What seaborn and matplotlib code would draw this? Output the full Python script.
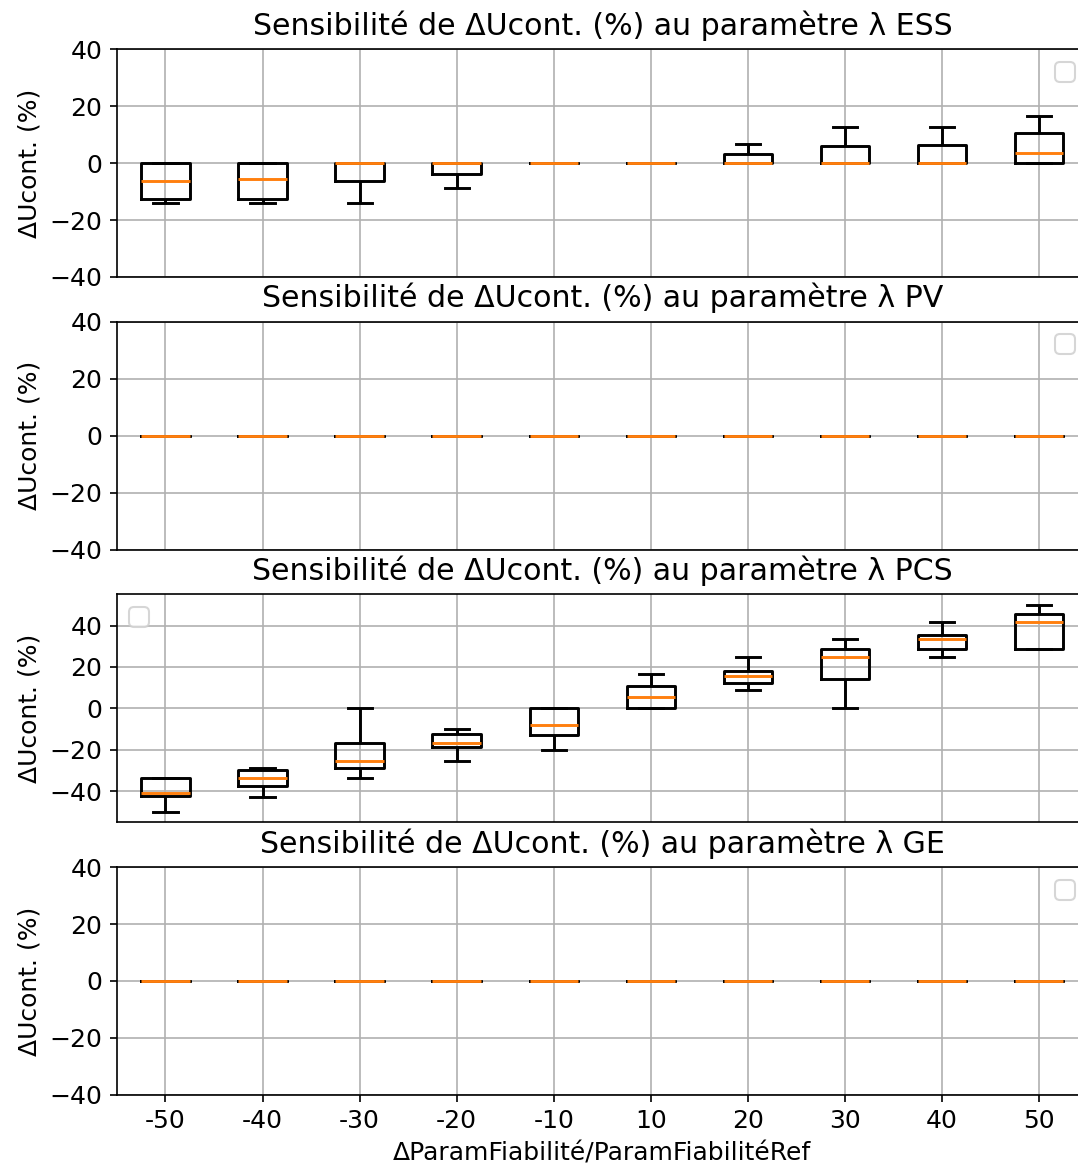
import numpy as np
import pandas as pd
import seaborn as sns
import matplotlib.pyplot as plt

plt.rcParams["font.size"] = 12

# x categories (relative change of the reliability parameter, %)
deltas = ["-50", "-40", "-30", "-20", "-10", "10", "20", "30", "40", "50"]

# five samples per category: lowest, q1, median, q3, highest
ess = [[-14.2, -12.5, -6.3, 0, 0],
       [-14.2, -12.5, -5.7, 0, 0],
       [-14.2, -6.4, 0, 0, 0],
       [-8.9, -3.7, 0, 0, 0],
       [0, 0, 0, 0, 0],
       [0, 0, 0, 0, 0],
       [0, 0, 0, 3.2, 6.7],
       [0, 0, 0, 6.0, 12.5],
       [0, 0, 0, 6.2, 12.5],
       [0, 0, 3.4, 10.5, 16.6]]

pv = [[0, 0, 0, 0, 0] for _ in deltas]

pcs = [[-50, -42.5, -41, -33.5, -33.5],
       [-42.7, -37.6, -33.5, -29.8, -28.7],
       [-33.5, -28.9, -25.2, -16.6, 0],
       [-25.2, -18.9, -16.6, -12.4, -9.8],
       [-20, -12.7, -7.9, 0, 0],
       [0, 0, 5.3, 11, 16.6],
       [9, 12.4, 15.5, 17.9, 25],
       [0, 14.2, 25, 28.7, 33.4],
       [25, 28.5, 33.4, 35.5, 41.5],
       [28.5, 28.5, 41.5, 45.6, 50]]

ge = [[0, 0, 0, 0, 0] for _ in deltas]

panels = [("ESS", ess, "upper right", True),
          ("PV", pv, "upper right", True),
          ("PCS", pcs, "upper left", False),
          ("GE", ge, "upper right", True)]


def to_long(samples):
    rows = []
    for d, vals in zip(deltas, samples):
        for v in vals:
            rows.append({"delta": d, "val": v})
    return pd.DataFrame(rows)


fig = plt.figure(figsize=(1078 / 150, 1171 / 150), dpi=150)
axes = fig.subplots(4, 1, sharex=True)
fig.subplots_adjust(left=0.1085, right=1.009, top=0.958, bottom=0.065, hspace=0.197)

for ax, (name, samples, loc, fixed) in zip(axes, panels):
    df = to_long(samples)
    sns.boxplot(data=df, x="delta", y="val", order=deltas, ax=ax,
                fill=False, color="black", width=0.5, linewidth=1.4,
                whis=1.5, showfliers=True,
                medianprops={"color": "C1", "linewidth": 1.4})
    ax.set_title("Sensibilité de ΔUcont. (%) au paramètre λ " + name, pad=7)
    ax.set_ylabel("ΔUcont. (%)")
    ax.set_xlabel("")
    if fixed:
        ax.set_ylim(-40, 40)
    ax.set_yticks([-40, -20, 0, 20, 40])
    ax.grid(True)
    ax.set_axisbelow(True)
    ax.legend(loc=loc)

axes[-1].set_xlabel("ΔParamFiabilité/ParamFiabilitéRef")
for ax in axes[:-1]:
    ax.tick_params(axis="x", bottom=False, labelbottom=False)

fig.savefig("out.png", dpi=150)
